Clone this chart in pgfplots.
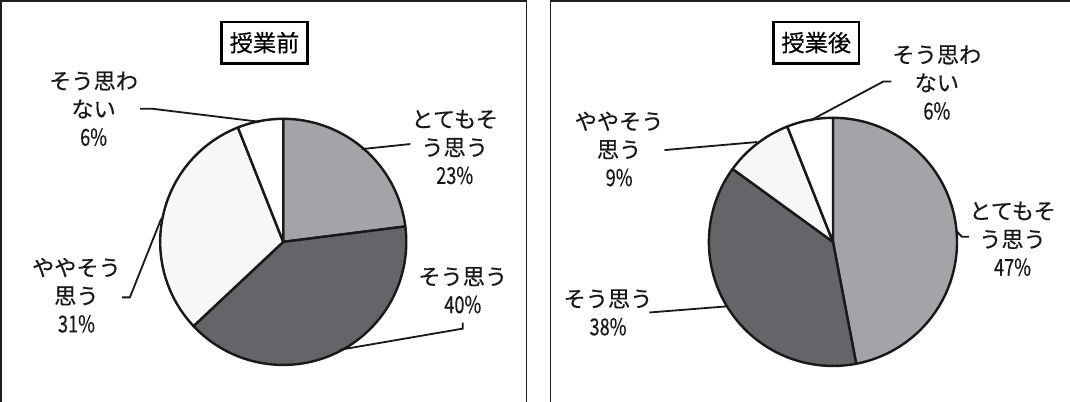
\documentclass[border=0pt]{standalone}
\usepackage{pgfplots}
\pgfplotsset{compat=1.18}
\usepackage{graphicx}
\usepackage{fontspec}
\newfontfamily\jp[FakeBold=0.4]{Noto Sans CJK JP}
\definecolor{lgray}{HTML}{A3A4A8}
\definecolor{dgray}{HTML}{636569}
\definecolor{wgray}{HTML}{F7F7F7}
\newcommand{\pct}[1]{\scalebox{0.82}[1.05]{#1\%}}
\tikzset{lab/.style={align=center, font=\jp\fontsize{22}{28}\selectfont, inner sep=0pt, text=black!90}}
% slice: colour, cx, cy, r, end angle, start angle
\newcommand{\slice}[6]{%
  \addplot[fill=#1, draw=black!90, line width=2.4pt, line join=round, domain=#5:#6, samples=90]
    ({#2+#4*cos(x)},{#3-#4*sin(x)}) -- (axis cs:#2,#3) -- cycle;}
\begin{document}
\begin{tikzpicture}
% data (percent)
\def\LA{23}\def\LB{40}\def\LC{31}\def\LD{6}
\def\RA{47}\def\RB{38}\def\RC{9}\def\RD{6}
\pgfmathsetmacro\La{90}
\pgfmathsetmacro\Lb{90-3.6*\LA}
\pgfmathsetmacro\Lc{90-3.6*(\LA+\LB)}
\pgfmathsetmacro\Ld{90-3.6*(\LA+\LB+\LC)}
\pgfmathsetmacro\Le{90-3.6*(\LA+\LB+\LC+\LD)}
\pgfmathsetmacro\Ra{90}
\pgfmathsetmacro\Rb{90-3.6*\RA}
\pgfmathsetmacro\Rc{90-3.6*(\RA+\RB)}
\pgfmathsetmacro\Rd{90-3.6*(\RA+\RB+\RC)}
\pgfmathsetmacro\Re{90-3.6*(\RA+\RB+\RC+\RD)}
\begin{axis}[
  width=1070pt, height=405pt, scale only axis,
  xmin=0, xmax=1070, ymin=0, ymax=405, y dir=reverse,
  hide axis, clip=true,
]
% frames
\draw[line width=1.6pt, color=black!88] (axis cs:10,420) -- (axis cs:10,8) -- (axis cs:531,8) -- (axis cs:531,420);
\draw[line width=1.6pt, color=black!88] (axis cs:555,420) -- (axis cs:555,8) -- (axis cs:1080,8);
% left pie
\slice{lgray}{290}{247}{122}{\Lb}{\La}
\slice{dgray}{290}{247}{122}{\Lc}{\Lb}
\slice{wgray}{290}{247}{122}{\Ld}{\Lc}
\slice{white}{290}{247}{122}{\Le}{\Ld}
% right pie
\slice{lgray}{835}{247}{123}{\Rb}{\Ra}
\slice{dgray}{835}{247}{123}{\Rc}{\Rb}
\slice{wgray}{835}{247}{123}{\Rd}{\Rc}
\slice{white}{835}{247}{123}{\Re}{\Rd}
% leader lines left
\addplot[black!90, line width=1.8pt] coordinates {(148,115) (160,115) (267,128)};
\addplot[black!90, line width=1.8pt] coordinates {(368,155) (416,150)};
\addplot[black!90, line width=1.8pt] coordinates {(468,327) (468,333) (346,354)};
\addplot[black!90, line width=1.8pt] coordinates {(130,302) (138,302) (169,224)};
% leader lines right
\addplot[black!90, line width=1.8pt] coordinates {(893,88) (885,88) (812,127)};
\addplot[black!90, line width=1.8pt] coordinates {(957,236) (963,242) (970,242)};
\addplot[black!90, line width=1.8pt] coordinates {(668,156) (760,148)};
\addplot[black!90, line width=1.8pt] coordinates {(653,317) (729,311)};
% titles
\node[draw, line width=2.5pt, minimum width=85pt, minimum height=41pt, inner sep=0pt,
      font=\jp\fontsize{23}{26}\selectfont] at (axis cs:271.5,49.5) {授業前};
\node[draw, line width=2.5pt, minimum width=85pt, minimum height=41pt, inner sep=0pt,
      font=\jp\fontsize{23}{26}\selectfont] at (axis cs:818.5,49.5) {授業後};
% labels left
\node[lab] at (axis cs:102,115) {そう思わ\\ない\\\pct{6}};
\node[lab] at (axis cs:460,153) {とてもそ\\う思う\\\pct{23}};
\node[lab] at (axis cs:468,295) {そう思う\\\pct{40}};
\node[lab] at (axis cs:85,300) {ややそう\\思う\\\pct{31}};
% labels right
\node[lab] at (axis cs:938,89) {そう思わ\\ない\\\pct{6}};
\node[lab] at (axis cs:1013,244) {とてもそ\\う思う\\\pct{47}};
\node[lab] at (axis cs:623,155) {ややそう\\思う\\\pct{9}};
\node[lab] at (axis cs:612,317) {そう思う\\\pct{38}};
\end{axis}
\end{tikzpicture}
\end{document}
